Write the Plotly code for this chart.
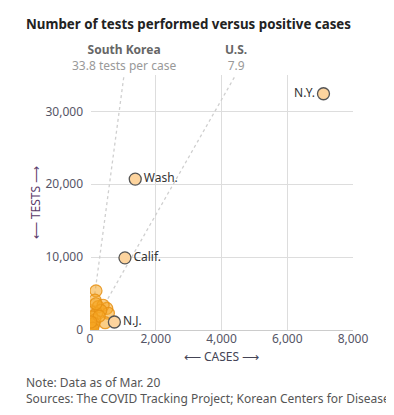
import plotly.graph_objects as go

# Labeled states
label_states = ["N.Y.", "Wash.", "Calif.", "N.J."]
label_cases = [7102, 1376, 1063, 742]
label_tests = [32427, 20712, 9900, 1100]

# Other states (unlabeled cluster)
other_cases = [183, 152, 250, 510, 400, 50, 200, 560, 150, 100, 20, 10, 460, 330, 60, 120, 280, 80, 30, 180]
other_tests = [5380, 4100, 3200, 2970, 3400, 2500, 2300, 2300, 1370, 680, 450, 60, 1000, 2700, 1800, 900, 1900, 250, 1100, 3600]

# Reference ratios (tests per case)
ref_names = ["South Korea", "U.S."]
ref_ratio = [33.8, 7.9]
ref_labels = ["33.8 tests per case", "7.9"]

x_max = 8000
y_max = 35000

FONT = "Noto Sans"
fig = go.Figure()

for r in ref_ratio:
    fig.add_trace(go.Scatter(
        x=[0, y_max * 1.05 / r], y=[0, y_max * 1.05],
        mode="lines", line=dict(color="#cfcfcf", width=1.3, dash="3px,3px"),
        hoverinfo="skip", showlegend=False))

fig.add_trace(go.Scatter(
    x=other_cases, y=other_tests, mode="markers",
    marker=dict(size=12, color="rgba(245,166,35,0.55)",
                line=dict(color="rgba(230,145,20,0.85)", width=1.2)),
    showlegend=False, hoverinfo="skip"))

fig.add_trace(go.Scatter(
    x=label_cases, y=label_tests, mode="markers+text",
    text=label_states,
    textposition=["middle left", "middle right", "middle right", "middle right"],
    textfont=dict(family=FONT, size=12, color="#333"),
    marker=dict(size=12, color="#fdd49e", line=dict(color="#555", width=1.3)),
    showlegend=False, hoverinfo="skip", cliponaxis=False))

for name, r, lab in zip(ref_names, ref_ratio, ref_labels):
    xpos = y_max / r
    fig.add_annotation(x=xpos, y=1.0, xref="x", yref="paper", yshift=-1,
                       text="<b>" + name + "</b><br><span style='color:#999'>" + lab + "</span>",
                       showarrow=False,
                       font=dict(family=FONT, size=12, color="#666"),
                       xanchor="center", yanchor="bottom", align="center")

fig.add_annotation(x=0, y=1, xref="paper", yref="paper", xshift=-66, yshift=40,
                   text="<b>Number of tests performed versus positive cases</b>",
                   showarrow=False, xanchor="left", yanchor="bottom",
                   font=dict(family=FONT, size=13.3, color="#222"))

fig.add_annotation(x=0, y=0, xref="paper", yref="paper", xshift=-66, yshift=-42,
                   text="Note: Data as of Mar. 20<br>Sources: The COVID Tracking Project; Korean Centers for Disease Control and Prevention",
                   showarrow=False, xanchor="left", yanchor="top", align="left",
                   font=dict(family=FONT, size=12, color="#555"))

fig.update_layout(
    width=394, height=415,
    margin=dict(l=82, r=49, t=67, b=93),
    paper_bgcolor="white", plot_bgcolor="white",
    font=dict(family=FONT, size=12, color="#555"),
    xaxis=dict(range=[0, x_max], tickvals=[0, 2000, 4000, 6000, 8000],
               ticktext=["0", "2,000", "4,000", "6,000", "8,000"],
               automargin=False,
               showgrid=True, gridcolor="#ddd", gridwidth=1.3,
               zeroline=True, zerolinecolor="white", zerolinewidth=2,
               showline=False, ticks="",
               tickfont=dict(family=FONT, size=12, color="#556"),
               title=dict(text="\u27f5 CASES \u27f6", standoff=6,
                          font=dict(family=FONT, size=12, color="#445"))),
    yaxis=dict(range=[0, y_max], tickvals=[0, 10000, 20000, 30000],
               ticktext=["0", "10,000", "20,000", "30,000"],
               automargin=False,
               showgrid=True, gridcolor="#ddd", gridwidth=1.3,
               zeroline=True, zerolinecolor="#ccc", zerolinewidth=1.3,
               ticks="", ticklabelstandoff=6,
               tickfont=dict(family=FONT, size=12, color="#556"),
               title=dict(text="\u27f5 TESTS \u27f6", standoff=2,
                          font=dict(family=FONT, size=12, color="#5a3a6a"))),
)

fig.write_html("out.html")
